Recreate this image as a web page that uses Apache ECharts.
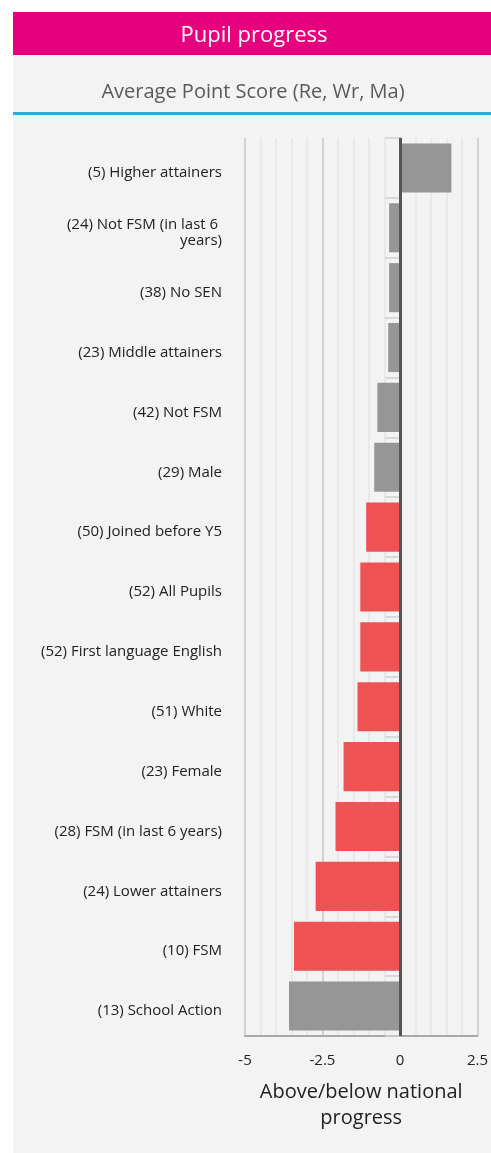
<!DOCTYPE html>
<html>
<head>
<meta charset="utf-8">
<script src="https://cdn.jsdelivr.net/npm/echarts@6/dist/echarts.min.js"></script>
<style>
html,body{margin:0;padding:0;background:#fff;}
#c{width:491px;height:1153px;}
</style>
</head>
<body>
<div id="c"></div>
<script>
const categories = [
  "(5) Higher attainers",
  "(24) Not FSM (in last 6 years)",
  "(38) No SEN",
  "(23) Middle attainers",
  "(42) Not FSM",
  "(29) Male",
  "(50) Joined before Y5",
  "(52) All Pupils",
  "(52) First language English",
  "(51) White",
  "(23) Female",
  "(28) FSM (in last 6 years)",
  "(24) Lower attainers",
  "(10) FSM",
  "(13) School Action"
];
const values = [1.66, -0.35, -0.35, -0.38, -0.73, -0.83, -1.09, -1.28, -1.28, -1.37, -1.82, -2.08, -2.72, -3.42, -3.58];
const significant = [false, false, false, false, false, false, true, true, true, true, true, true, true, true, false];
const xTicks = [-5, -2.5, 0, 2.5];
const titleText = "Pupil progress";
const subtitleText = "Average Point Score (Re, Wr, Ma)";
const xAxisName = "Above/below national\nprogress";

const GREY = "#969696", RED = "#ee5253";
const font = "'Open Sans', Lato, sans-serif";

const chart = echarts.init(document.getElementById('c'), null, {renderer: 'canvas'});
chart.setOption({
  backgroundColor: '#ffffff',
  animation: false,
  graphic: [
    {type: 'rect', left: 13, top: 55, shape: {width: 478, height: 1098}, style: {fill: '#f3f3f3'}, z: -10},
    {type: 'rect', left: 13, top: 12, shape: {width: 478, height: 43}, style: {fill: '#e6007e'}, z: -9},
    {type: 'rect', left: 13, top: 112, shape: {width: 478, height: 3}, style: {fill: '#29abe2'}, z: -9},
    {type: 'text', x: 254, y: 35.5, style: {text: titleText, fill: '#ffffff', font: '22px ' + font, textAlign: 'center', textVerticalAlign: 'middle'}},
    {type: 'text', x: 253, y: 92.5, style: {text: subtitleText, fill: '#5a5a5a', font: '20px ' + font, textAlign: 'center', textVerticalAlign: 'middle'}}
  ],
  grid: {left: 245, right: 13, top: 138, bottom: 117, containLabel: false},
  xAxis: {
    type: 'value', min: -5, max: 2.5, interval: 2.5,
    axisLine: {show: true, onZero: false, lineStyle: {color: '#a8a8a8', width: 2}},
    axisTick: {show: false},
    axisLabel: {
      color: '#222', fontSize: 15, fontFamily: font, margin: 17,
      customValues: xTicks,
      formatter: v => String(v)
    },
    splitLine: {show: true, lineStyle: {color: '#c8c8c8', width: 1.5}},
    minorTick: {show: false, splitNumber: 5},
    minorSplitLine: {show: true, lineStyle: {color: '#e6e6e6', width: 1.5}},
    name: xAxisName, nameLocation: 'middle', nameGap: 43,
    nameTextStyle: {color: '#222', fontSize: 20, fontFamily: font, lineHeight: 26}
  },
  yAxis: {
    type: 'category', data: categories, inverse: true,
    axisLine: {show: true, lineStyle: {color: '#b5b5b5', width: 2}},
    axisTick: {show: true, length: 15, lineStyle: {color: '#cfcfcf', width: 1.5}},
    axisLabel: {
      color: '#222', fontSize: 15, fontFamily: font, margin: 23,
      width: 195, overflow: 'break', lineHeight: 16, align: 'right',
      formatter: v => '{l|' + v + '}',
      rich: {l: {fontSize: 15, fontFamily: font, color: '#222', lineHeight: 16, padding: [10, 0, 0, 0]}}
    },
    splitLine: {show: false}
  },
  series: [{
    type: 'bar',
    data: values.map((v, i) => ({value: v, itemStyle: {color: significant[i] ? RED : GREY}})),
    barCategoryGap: '18%',
    silent: true,
    markLine: {
      silent: true, symbol: 'none', label: {show: false},
      lineStyle: {color: '#555', width: 3, type: 'solid'},
      data: [{xAxis: 0}]
    }
  }]
});
</script>
</body>
</html>
